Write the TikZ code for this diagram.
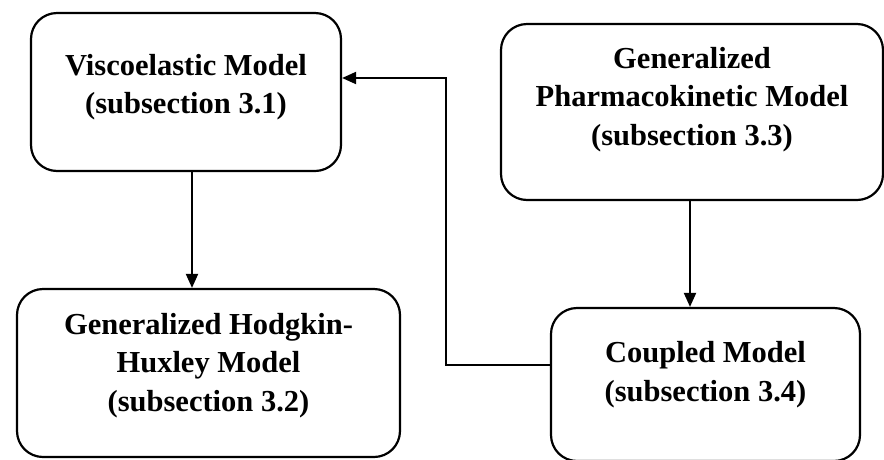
\documentclass[tikz,border=0pt]{standalone}
\usepackage{fontspec}
\setmainfont{Liberation Serif}
\usetikzlibrary{arrows.meta}
\newcommand\boxfont{\fontsize{30.5}{38.5}\selectfont\bfseries}

\begin{document}
\begin{tikzpicture}[x=1pt,y=-1pt,
  modelbox/.style={draw,line width=2.2pt,rounded corners=26pt,align=center,
    font=\boxfont,inner sep=0pt},
  link/.style={line width=2pt,-{Triangle[length=14pt,width=12pt]}}]
  \useasboundingbox (0,0) rectangle (884,459);
  % upper row
  \node[modelbox,minimum width=310pt,minimum height=158pt,text depth=16pt]
    (viscobox) at (186,92) {Viscoelastic Model\\(subsection 3.1)};
  \node[modelbox,minimum width=382pt,minimum height=176pt,text depth=32pt]
    (pharmabox) at (692,112) {Generalized\\Pharmacokinetic Model\\(subsection 3.3)};
  % lower row
  \node[modelbox,minimum width=383pt,minimum height=168pt,text depth=22pt]
    (hodgbox) at (208.5,373) {Generalized Hodgkin-\\Huxley Model\\(subsection 3.2)};
  \node[modelbox,minimum width=309pt,minimum height=153pt,text depth=26pt]
    (coupledbox) at (705.5,384.5) {Coupled Model\\(subsection 3.4)};
  % connectors
  \coordinate (bend) at (446,78);
  \draw[link] ([xshift=6pt]viscobox.south) -- ([xshift=6pt]viscobox.south |- hodgbox.north);
  \draw[link] ([xshift=-2pt]pharmabox.south) -- ([xshift=-2pt]pharmabox.south |- coupledbox.north);
  \draw[link] ([yshift=19.5pt]coupledbox.west) -| (bend) -- (bend -| viscobox.east);
\end{tikzpicture}
\end{document}
